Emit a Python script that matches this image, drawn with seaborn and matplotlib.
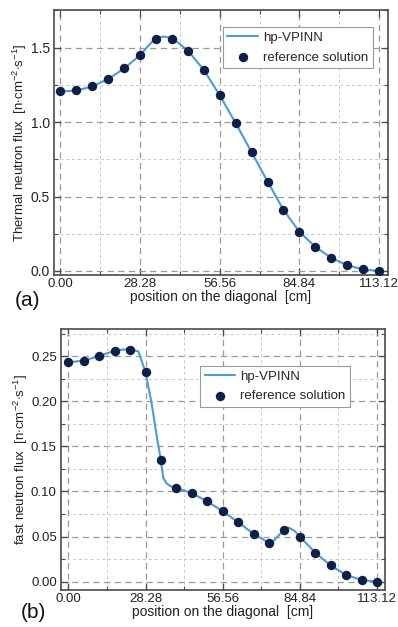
import matplotlib
matplotlib.use("Agg")
import matplotlib.pyplot as plt
import seaborn as sns
import pandas as pd
from matplotlib.ticker import MultipleLocator, FixedLocator

# ---------------- data ----------------
ref_x = [0.00, 5.656, 11.312, 16.968, 22.624, 28.28, 33.936, 39.592, 45.248, 50.904,
         56.56, 62.216, 67.872, 73.528, 79.184, 84.84, 90.496, 96.152, 101.808, 107.464, 113.12]

thermal_ref = [1.21, 1.216, 1.243, 1.292, 1.362, 1.449, 1.56, 1.558, 1.48, 1.348,
               1.18, 0.993, 0.798, 0.601, 0.411, 0.263, 0.162, 0.088, 0.039, 0.012, 0.0]
thermal_line_x = [0.0, 5.656, 11.312, 16.968, 22.624, 28.28, 31.5, 33.936, 36.8, 39.592,
                  42.0, 45.248, 50.904, 56.56, 62.216, 67.872, 73.528, 79.184, 84.84,
                  90.496, 96.152, 101.808, 107.464, 113.12]
thermal_line_y = [1.205, 1.212, 1.24, 1.29, 1.36, 1.45, 1.52, 1.565, 1.575, 1.562,
                  1.53, 1.48, 1.35, 1.18, 0.993, 0.798, 0.601, 0.411, 0.263,
                  0.162, 0.088, 0.039, 0.010, 0.0]

fast_ref = [0.243, 0.245, 0.25, 0.256, 0.257, 0.232, 0.1344, 0.104, 0.098, 0.089,
            0.078, 0.066, 0.053, 0.043, 0.057, 0.050, 0.032, 0.018, 0.0074, 0.002, 0.0]
fast_line_x = [0.0, 5.656, 11.312, 16.968, 22.624, 25.7, 28.28, 30.5, 32.4, 33.936,
               34.8, 36.0, 37.3, 39.592, 45.248, 50.904, 56.56, 62.216, 67.872, 73.528,
               74.8, 77.0, 79.184, 80.7, 83.0, 84.84, 90.496, 96.152, 101.808, 107.464, 113.12]
fast_line_y = [0.243, 0.245, 0.25, 0.256, 0.258, 0.255, 0.232, 0.198, 0.161, 0.134,
               0.115, 0.109, 0.106, 0.104, 0.098, 0.089, 0.078, 0.066, 0.053, 0.043,
               0.044, 0.051, 0.058, 0.060, 0.056, 0.050, 0.032, 0.018, 0.0074, 0.002, 0.0]

xticks = [0.00, 28.28, 56.56, 84.84, 113.12]
xtick_labels = ["0.00", "28.28", "56.56", "84.84", "113.12"]

# ---------------- style ----------------
sns.set_theme(style="ticks")
plt.rcParams['font.family'] = ['Liberation Sans', 'DejaVu Sans']
plt.rcParams['mathtext.fontset'] = 'custom'
plt.rcParams['mathtext.rm'] = 'Liberation Sans'

LINE_C = "#4a9cd6"
DOT_C = "#0f1f48"
FRAME_C = "#4a4a4a"

fig = plt.figure(figsize=(3.98, 6.27), dpi=100)
ax1 = fig.add_axes([54/398, 1-275/627, 334/398, 265/627])
ax2 = fig.add_axes([61/398, 1-590/627, 324/398, 261/627])


def style_axes(ax, ylim, ymaj, ymin, ylab, ytick_fs, ydec):
    ax.set_ylim(*ylim)
    ax.xaxis.set_major_locator(FixedLocator(xticks))
    ax.set_xticklabels(xtick_labels)
    ax.xaxis.set_minor_locator(FixedLocator([14.14, 42.42, 70.70, 98.98]))
    ax.yaxis.set_major_locator(MultipleLocator(ymaj))
    ax.yaxis.set_minor_locator(MultipleLocator(ymin))
    ax.yaxis.set_major_formatter(matplotlib.ticker.FormatStrFormatter(ydec))
    ax.grid(True, which="major", color="#9a9a9a", linestyle=(0, (5, 3.5)), linewidth=0.9)
    ax.grid(True, which="minor", color="#c8c8c8", linestyle=(0, (3, 3)), linewidth=0.7)
    ax.set_axisbelow(True)
    ax.tick_params(which="both", direction="in", top=True, right=True,
                   colors=FRAME_C, labelcolor="#222222")
    ax.tick_params(which="major", length=5, width=0.9)
    ax.tick_params(axis="x", which="major", labelsize=9.5, pad=2.5)
    ax.tick_params(axis="y", which="major", labelsize=ytick_fs, pad=3)
    ax.tick_params(which="minor", length=3, width=0.8)
    for s in ax.spines.values():
        s.set_color(FRAME_C)
        s.set_linewidth(1.2)
    ax.set_xlabel("position on the diagonal  [cm]", fontsize=10, color="#222222", labelpad=0)
    ax.set_ylabel(ylab, fontsize=9.5, color="#222222", labelpad=1)


df1_line = pd.DataFrame({"x": thermal_line_x, "y": thermal_line_y})
df1_ref = pd.DataFrame({"x": ref_x, "y": thermal_ref})
df2_line = pd.DataFrame({"x": fast_line_x, "y": fast_line_y})
df2_ref = pd.DataFrame({"x": ref_x, "y": fast_ref})

for ax, dl, dr in [(ax1, df1_line, df1_ref), (ax2, df2_line, df2_ref)]:
    sns.lineplot(data=dl, x="x", y="y", ax=ax, color=LINE_C, linewidth=1.5,
                 label="hp-VPINN", zorder=3, sort=False)
    sns.scatterplot(data=dr, x="x", y="y", ax=ax, color=DOT_C, s=46,
                    edgecolor=DOT_C, linewidth=0, label="reference solution", zorder=4)

style_axes(ax1, (-0.027, 1.753), 0.5, 0.25,
           "Thermal neutron flux  [n$\\cdot$cm$^{-2}$$\\cdot$s$^{-1}$]", 10, "%.1f")
style_axes(ax2, (-0.0092, 0.28), 0.05, 0.025,
           "fast neutron flux  [n$\\cdot$cm$^{-2}$$\\cdot$s$^{-1}$]", 9.5, "%.2f")
ax1.set_xlim(-2.3, 116.3)
ax2.set_xlim(-2.7, 116.05)

for ax, anchor in [(ax1, (0.955, 0.935)), (ax2, (0.892, 0.858))]:
    leg = ax.legend(loc="upper right", bbox_to_anchor=anchor, fontsize=9.5,
                    frameon=True, fancybox=False, framealpha=1, edgecolor="#9a9a9a",
                    handlelength=2.3, handletextpad=0.4, borderpad=0.35,
                    labelspacing=0.55, borderaxespad=0, markerscale=1.0)
    leg.get_frame().set_linewidth(0.8)

fig.text(28/398, 1-301/627, "(a)", fontsize=15, ha="center", va="center", color="#111111")
fig.text(33/398, 1-612/627, "(b)", fontsize=15, ha="center", va="center", color="#111111")

fig.savefig("out.png", dpi=100)
